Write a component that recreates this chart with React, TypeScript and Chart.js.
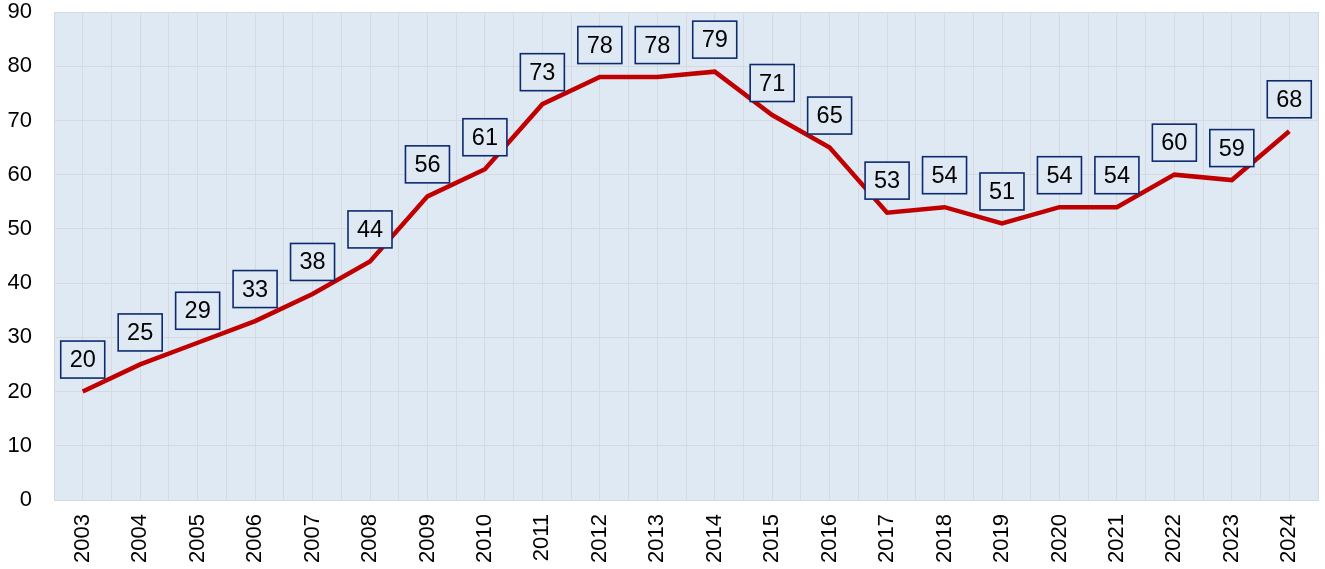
import React, { useEffect, useRef } from "react";
import { Chart, registerables } from "chart.js";

Chart.register(...registerables);

const years = ["2003","2004","2005","2006","2007","2008","2009","2010","2011","2012","2013","2014","2015","2016","2017","2018","2019","2020","2021","2022","2023","2024"];
const values = [20,25,29,33,38,44,56,61,73,78,78,79,71,65,53,54,51,54,54,60,59,68];
const yTicks = [0,10,20,30,40,50,60,70,80,90];

const PLOT_BG = "#DFE9F4";
const GRID = "#D6D9DE";
const LINE = "#C00000";
const BOX_BORDER = "#0E2A6E";
const FONT = "Arial, 'Liberation Sans', sans-serif";

const bgPlugin = {
  id: "plotBg",
  beforeDraw(chart: any) {
    const { ctx, chartArea } = chart;
    ctx.save();
    ctx.fillStyle = PLOT_BG;
    ctx.fillRect(chartArea.left, chartArea.top, chartArea.right - chartArea.left, chartArea.bottom - chartArea.top);
    ctx.restore();
  },
};

const labelPlugin = {
  id: "boxLabels",
  afterDatasetsDraw(chart: any) {
    const { ctx } = chart;
    const meta = chart.getDatasetMeta(0);
    ctx.save();
    ctx.font = "23.5px " + FONT;
    ctx.textAlign = "center";
    ctx.textBaseline = "middle";
    meta.data.forEach((pt: any, i: number) => {
      const text = String(values[i]);
      const cx = pt.x;
      const cy = pt.y - 32;
      const w = 44;
      const h = 37;
      ctx.fillStyle = PLOT_BG;
      ctx.fillRect(cx - w / 2, cy - h / 2, w, h);
      ctx.strokeStyle = BOX_BORDER;
      ctx.lineWidth = 1.6;
      ctx.strokeRect(cx - w / 2, cy - h / 2, w, h);
      ctx.fillStyle = "#000";
      ctx.fillText(text, cx, cy + 1);
    });
    ctx.restore();
  },
};

export default function App() {
  const ref = useRef<HTMLCanvasElement>(null);
  useEffect(() => {
    const chart = new Chart(ref.current!, {
      type: "line",
      data: {
        datasets: [
          {
            data: values.map((v, i) => ({ x: i, y: v })),
            borderColor: LINE,
            borderWidth: 4.5,
            pointRadius: 0,
            tension: 0,
            fill: false,
          },
        ],
      },
      options: {
        animation: false,
        responsive: false,
        maintainAspectRatio: false,
        layout: { padding: { top: 12, right: 7, left: 0, bottom: 0 } },
        plugins: { legend: { display: false }, tooltip: { enabled: false } },
        scales: {
          x: {
            type: "linear",
            min: -0.5,
            max: years.length - 0.5,
            grid: { color: GRID, lineWidth: 1, drawTicks: false },
            border: { color: GRID, width: 1 },
            afterBuildTicks(axis: any) {
              const t: any[] = [];
              for (let k = 0; k <= years.length * 2; k++) t.push({ value: -0.5 + k * 0.5 });
              axis.ticks = t;
            },
            afterFit(axis: any) {
              axis.height = 69;
              axis.paddingLeft = 0;
              axis.paddingRight = 0;
            },
            ticks: {
              autoSkip: false,
              minRotation: 90,
              maxRotation: 90,
              padding: 14,
              color: "#000",
              font: { family: FONT, size: 22 },
              callback: (v: any) => {
                const n = Number(v);
                return Number.isInteger(n) && n >= 0 && n < years.length ? years[n] : "";
              },
            },
          },
          y: {
            min: 0,
            max: 90,
            grid: { color: GRID, lineWidth: 1, drawTicks: false },
            border: { color: GRID, width: 1 },
            afterBuildTicks(axis: any) {
              axis.ticks = yTicks.map((v) => ({ value: v }));
            },
            afterFit(axis: any) {
              axis.width = 54;
              axis.paddingTop = 0;
              axis.paddingBottom = 0;
            },
            ticks: {
              padding: 22,
              color: "#000",
              font: { family: FONT, size: 22 },
            },
          },
        },
      },
      plugins: [bgPlugin, labelPlugin],
    } as any);
    return () => chart.destroy();
  }, []);
  return (
    <div style={{ position: "fixed", left: 0, top: 0, width: 1325, height: 569, background: "#fff" }}>
      <canvas ref={ref} width={1325} height={569} style={{ width: 1325, height: 569 }} />
    </div>
  );
}
